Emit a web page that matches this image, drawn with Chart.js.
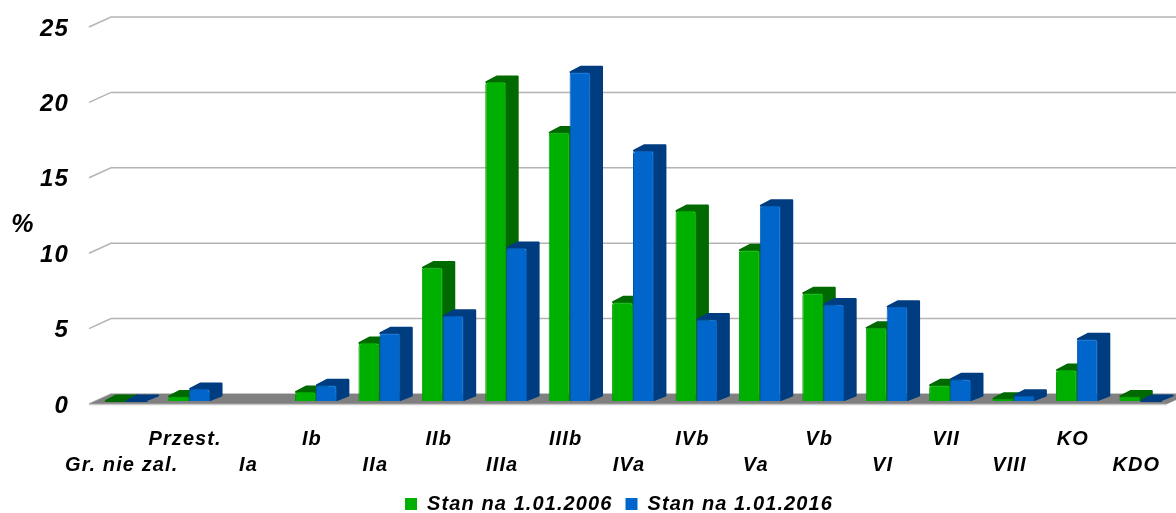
<!DOCTYPE html>
<html>
<head>
<meta charset="utf-8">
<title>Stan</title>
<script src="https://cdn.jsdelivr.net/npm/chart.js@4/dist/chart.umd.min.js"></script>
<style>
html,body{margin:0;padding:0;background:#fff}
canvas{display:block}
</style>
</head>
<body>
<canvas id="c" width="1176" height="513"></canvas>
<script>
var grupy = ['Gr. nie zal.','Przest.','Ia','Ib','IIa','IIb','IIIa','IIIb','IVa','IVb','Va','Vb','VI','VII','VIII','KO','KDO'];
var stan2006 = [0,0.3,null,0.6,3.85,8.85,21.15,17.8,6.55,12.6,10,7.15,4.85,1.05,0.15,2.05,0.3];
var stan2016 = [0,0.8,null,1.05,4.5,5.65,10.15,21.8,16.6,5.4,12.95,6.4,6.25,1.45,0.35,4.1,0];
var etykiety = ['Stan na 1.01.2006','Stan na 1.01.2016'];
var ticksY = [0,5,10,15,20,25];

var fontName = '"Liberation Sans", Arial, sans-serif';
var depthX = 11.5, depthY = 5.5;
var kolory = [
    { front:'#00b000', edge:'#009c00', side:'#006a00' },
    { front:'#0066cc', edge:'#0058b0', side:'#003d80' }
];

function spacing(chart){ chart.ctx.letterSpacing = '1.1px'; }

// Cara lateral y superior; la cara frontal la pinta el controller de Chart.js
function drawDepth(ctx, bars, vals, col){
    ctx.save();
    ctx.fillStyle = col.side;
    ctx.strokeStyle = col.side;
    ctx.lineWidth = 2;
    ctx.lineJoin = 'round';
    for (var i = 0; i < bars.length; i++) {
        var b = bars[i], l = b.x - b.width / 2, r = b.x + b.width / 2;
        if (vals[i] === null) continue;
        ctx.beginPath();
        ctx.moveTo(l + 1, b.y);
        ctx.lineTo(l + depthX, b.y - depthY);
        ctx.lineTo(r + depthX, b.y - depthY);
        ctx.lineTo(r + depthX, b.base - depthY);
        ctx.lineTo(r, b.base - 1);
        ctx.lineTo(r, b.y);
        ctx.closePath();
        ctx.fill();
        ctx.stroke();
    }
    ctx.restore();
}

var plot3d = {
    id:'plot3d',
    beforeLayout:function(chart){ spacing(chart); },
    afterLayout:function(chart){
        var l = chart.legend;
        l.top += 4; l.bottom += 4;
        l.left += 33; l.right += 33;
    },
    beforeDraw:function(chart){ spacing(chart); },
    beforeDatasetsDraw:function(chart){
        var ctx = chart.ctx, a = chart.chartArea, sy = chart.scales.y;
        ctx.save();
        ctx.strokeStyle = '#b4b4b4';
        ctx.lineWidth = 1.5;
        for (var i = 0; i < ticksY.length; i++) {
            var y = sy.getPixelForValue(ticksY[i]);
            ctx.beginPath();
            ctx.moveTo(a.left - 5, y + 3);
            ctx.lineTo(a.left + 17, y - 7);
            ctx.lineTo(a.right + 17, y - 7);
            ctx.stroke();
        }
        var y0 = sy.getPixelForValue(0);
        ctx.fillStyle = '#808080';
        ctx.beginPath();
        ctx.moveTo(a.left - 5, y0 + 3);
        ctx.lineTo(a.left + 17, y0 - 7);
        ctx.lineTo(a.right + 17, y0 - 7);
        ctx.lineTo(a.right - 5, y0 + 3);
        ctx.closePath();
        ctx.fill();
        ctx.strokeStyle = '#c8c8c8';
        ctx.beginPath();
        ctx.moveTo(a.left - 5, y0 + 3.5);
        ctx.lineTo(a.right - 5, y0 + 3.5);
        ctx.stroke();
        ctx.restore();

        // verde primero, azul encima (Chart.js por defecto lo hace al reves)
        for (var d = 0; d < chart.data.datasets.length; d++) {
            var meta = chart.getDatasetMeta(d);
            drawDepth(ctx, meta.data, chart.data.datasets[d].data, kolory[d]);
            meta.controller.draw();
        }
    },
    beforeDatasetDraw:function(){ return false; },
    afterDraw:function(chart){
        var ctx = chart.ctx;
        ctx.save();
        ctx.fillStyle = '#000';
        ctx.font = 'italic bold 25px ' + fontName;
        ctx.textAlign = 'center';
        ctx.textBaseline = 'middle';
        ctx.fillText('%', 23, 225);
        ctx.restore();
    }
};

new Chart(document.getElementById('c'), {
    type:'bar',
    data:{
        labels:grupy,
        datasets:[
            { label:etykiety[0], data:stan2006, backgroundColor:kolory[0].front, borderColor:kolory[0].edge, borderWidth:1, borderRadius:3 },
            { label:etykiety[1], data:stan2016, backgroundColor:kolory[1].front, borderColor:kolory[1].edge, borderWidth:1, borderRadius:3 }
        ]
    },
    options:{
        responsive:false,
        animation:false,
        layout:{ padding:{ top:24, right:4, left:0, bottom:-7 } },
        categoryPercentage:0.66,
        barPercentage:1,
        plugins:{
            tooltip:{ enabled:false },
            legend:{
                position:'bottom',
                labels:{
                    boxWidth:12, boxHeight:12, padding:13, color:'#000',
                    font:{ family:fontName, size:20, style:'italic', weight:'bold' },
                    generateLabels:function(chart){
                        return chart.data.datasets.map(function(d, i){
                            return { text:d.label, fillStyle:kolory[i].front, strokeStyle:kolory[i].front, lineWidth:0, datasetIndex:i, fontColor:'#000' };
                        });
                    }
                }
            }
        },
        scales:{
            x:{
                grid:{ display:false, drawTicks:false },
                border:{ display:false },
                afterFit:function(s){ s.height = 76; s.paddingLeft = 0; s.paddingRight = 0; },
                ticks:{
                    autoSkip:false, maxRotation:0, minRotation:0, padding:25, labelOffset:-4, color:'#000',
                    font:{ family:fontName, size:20, style:'italic', weight:'bold', lineHeight:1.3 },
                    callback:function(v, i){
                        var t = this.getLabelForValue(v);
                        return i % 2 ? [t, ''] : ['', t];
                    }
                }
            },
            y:{
                min:0, max:25,
                grid:{ display:false, drawTicks:false },
                border:{ display:false },
                afterFit:function(s){ s.width = 94; s.paddingTop = 0; s.paddingBottom = 0; },
                afterBuildTicks:function(s){ s.ticks = ticksY.map(function(v){ return { value:v }; }); },
                ticks:{
                    padding:25, labelOffset:5, color:'#000',
                    font:{ family:fontName, size:24, style:'italic', weight:'bold' }
                }
            }
        }
    },
    plugins:[plot3d]
});
</script>
</body>
</html>
